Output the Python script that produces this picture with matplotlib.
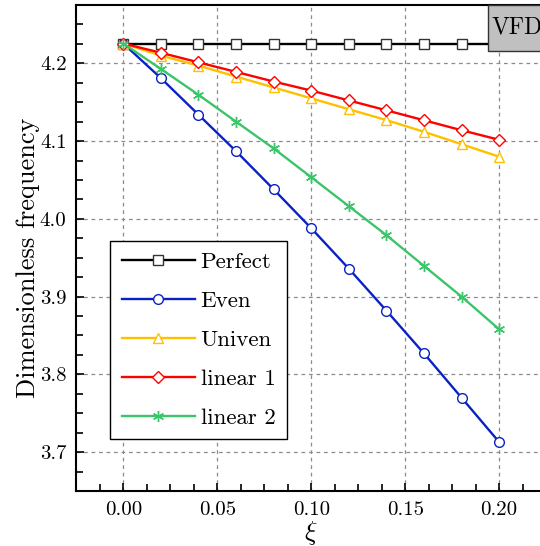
import matplotlib
matplotlib.use("Agg")
import matplotlib.pyplot as plt
from matplotlib.ticker import MultipleLocator, FormatStrFormatter
from matplotlib.patches import Rectangle

plt.rcParams['font.family'] = 'serif'
plt.rcParams['font.serif'] = ['cmr10', 'DejaVu Serif']
plt.rcParams['mathtext.fontset'] = 'cm'
plt.rcParams['axes.formatter.use_mathtext'] = True

# data
xi = [0.00, 0.02, 0.04, 0.06, 0.08, 0.10, 0.12, 0.14, 0.16, 0.18, 0.20]
perfect = [4.2255] * 11
even = [4.2255, 4.181, 4.134, 4.087, 4.038, 3.988, 3.936, 3.882, 3.827, 3.770, 3.713]
univen = [4.2255, 4.210, 4.197, 4.183, 4.169, 4.155, 4.141, 4.127, 4.112, 4.096, 4.080]
linear1 = [4.2255, 4.2136, 4.2013, 4.189, 4.1766, 4.165, 4.1523, 4.1396, 4.1268, 4.114, 4.1017]
linear2 = [4.2255, 4.1928, 4.1596, 4.125, 4.0906, 4.0536, 4.0163, 3.979, 3.9395, 3.900, 3.858]

fig = plt.figure(figsize=(5.4, 5.46), dpi=100)
ax = fig.add_axes([0.1413, 0.1007, 0.870, 0.8901])

kw = dict(lw=1.7, markersize=7, markerfacecolor='white', markeredgewidth=1.0)
ax.plot(xi, perfect, color='black', marker='s', markeredgecolor='#333333', label='Perfect', **kw)
ax.plot(xi, even, color='#0a22c4', marker='o', label='Even', **kw)
ax.plot(xi, univen, color='#ffc000', marker='^', label='Univen', **kw)
ax.plot(xi, linear1, color='#ff0000', marker='D', label='linear 1',
        lw=1.7, markersize=6.5, markerfacecolor='white', markeredgewidth=1.0)
ax.plot(xi, linear2, color='#3cc46a', marker=(6, 2, 0), label='linear 2',
        lw=1.7, markersize=8, markeredgewidth=1.0)

ax.set_xlim(-0.025, 0.225)
ax.set_ylim(3.65, 4.275)
ax.xaxis.set_major_locator(MultipleLocator(0.05))
ax.xaxis.set_minor_locator(MultipleLocator(0.0125))
ax.yaxis.set_major_locator(MultipleLocator(0.1))
ax.yaxis.set_minor_locator(MultipleLocator(0.025))
ax.xaxis.set_major_formatter(FormatStrFormatter('%.2f'))
ax.yaxis.set_major_formatter(FormatStrFormatter('%.1f'))
ax.tick_params(which='both', direction='in', top=False, right=False, width=1.2)
ax.tick_params(which='major', length=6, labelsize=15, pad=7)
ax.tick_params(which='minor', length=5)
for s in ax.spines.values():
    s.set_linewidth(1.5)

ax.grid(True, which='major', color='#8c8c8c', linestyle=(0, (3, 3)), linewidth=0.9)
ax.set_axisbelow(True)

ax.set_xlabel(r'$\xi$', fontsize=19, labelpad=0)
ax.set_ylabel('Dimensionless frequency', fontsize=19, labelpad=0)
ax.yaxis.label.set_y(0.48)

leg = ax.legend(loc='lower left', bbox_to_anchor=(0.072, 0.107), borderaxespad=0,
                fontsize=16.5, handlelength=3.2, handletextpad=0.25, labelspacing=0.82,
                fancybox=False, framealpha=1, edgecolor='black', borderpad=0.5)
leg.get_frame().set_linewidth(1.0)

ax.add_patch(Rectangle((0.876, 0.906), 0.2, 0.094, transform=ax.transAxes,
                       facecolor='#c0c0c0', edgecolor='#333333', lw=1.0,
                       clip_on=False, zorder=5))
ax.text(0.884, 0.953, 'VFD', transform=ax.transAxes, fontsize=17,
        ha='left', va='center', zorder=6)

fig.savefig('out.png', dpi=100)
